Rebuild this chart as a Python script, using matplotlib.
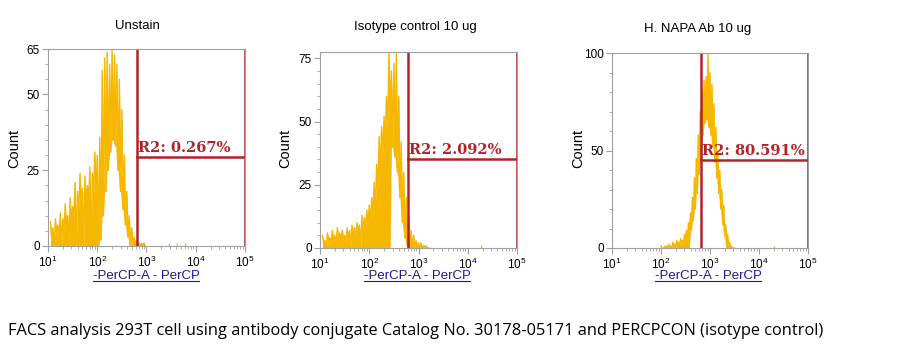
import numpy as np
import matplotlib
matplotlib.use("Agg")
import matplotlib.pyplot as plt
from matplotlib.ticker import FixedLocator, LogLocator, NullFormatter, MultipleLocator

plt.rcParams["font.family"] = ["Liberation Sans", "DejaVu Sans"]
plt.rcParams["mathtext.fontset"] = "custom"
plt.rcParams["mathtext.rm"] = "Liberation Sans"

# ---- data (log10 channel, counts) ----
titles = ["Unstain", "Isotype control 10 ug", "H. NAPA Ab 10 ug"]
gate_labels = ["R2: 0.267%", "R2: 2.092%", "R2: 80.591%"]

# panel 1: unstained
unstain_start, unstain_step = 1.05, 0.05
unstain_hi = [8, 6, 9, 7, 11, 9, 14, 10, 16, 13, 21, 18, 24, 19, 23, 20, 26, 24, 31, 30,
              36, 58, 62, 64, 60, 65, 63, 60, 55, 45, 30, 18, 10, 6, 3, 2, 1, 1, 1]
unstain_lo = [2, 0, 4, 3, 0, 5, 6, 0, 8, 9, 0, 12, 13, 0, 14, 15, 0, 17, 18, 0,
              2, 10, 18, 25, 31, 35, 33, 25, 18, 12, 7, 3, 0, 0, 0, 0, 0, 0, 0]
unstain_hollow = (2.05, 2.65)
unstain_events_x = [3.45, 3.62, 3.78]
unstain_events_y = [1, 1, 1]

# panel 2: isotype control
iso_start, iso_step = 1.05, 0.05
iso_hi = [5, 3, 6, 4, 7, 5, 8, 6, 7, 5, 8, 7, 9, 8, 10, 9, 13, 12, 15, 17,
          20, 26, 33, 44, 48, 52, 60, 77, 70, 73, 77, 60, 42, 30, 20, 12, 7, 5, 3, 2,
          2, 1, 1, 0]
iso_lo = [2, 0, 3, 2, 3, 0, 4, 3, 4, 2, 4, 0, 5, 5, 6, 0, 7, 8, 9, 10,
          12, 16, 22, 30, 36, 42, 48, 55, 40, 36, 30, 20, 10, 4, 1, 1, 0, 0, 0, 0,
          0, 0, 0, 0]
iso_hollow = (2.45, 2.75)
iso_events_x = [4.27]
iso_events_y = [1]

# panel 3: H. NAPA Ab
napa_start, napa_step = 2.00, 0.04
napa_hi = [1, 0, 1, 1, 2, 1, 3, 2, 4, 3, 5, 4, 7, 9, 13, 18, 26, 36, 46, 58,
           70, 80, 86, 88, 100, 90, 84, 74, 62, 50, 40, 30, 22, 12, 7, 3, 1, 0]
napa_lo = [0, 0, 0, 0, 0, 0, 1, 0, 1, 1, 2, 2, 3, 4, 6, 9, 14, 20, 28, 38,
           48, 58, 64, 66, 62, 58, 52, 44, 36, 28, 20, 12, 6, 3, 1, 0, 0, 0]
napa_hollow = (2.6, 3.3)
napa_events_x = [4.3]
napa_events_y = [1]

gate_pos = [10 ** 2.81, 10 ** 2.79, 10 ** 2.82]
gate_level = [29.4, 35.2, 45.0]
y_max = [65, 77.5, 100]
y_major = [[0, 25, 50, 65], [0, 25, 50, 75], [0, 50, 100]]
y_minor = [5, 5, 10]

caption = ("FACS analysis 293T cell using antibody conjugate Catalog No. 30178-05171 "
           "and PERCPCON (isotype control)")

series = [
    (unstain_start, unstain_step, unstain_hi, unstain_lo, unstain_hollow,
     unstain_events_x, unstain_events_y),
    (iso_start, iso_step, iso_hi, iso_lo, iso_hollow, iso_events_x, iso_events_y),
    (napa_start, napa_step, napa_hi, napa_lo, napa_hollow, napa_events_x, napa_events_y),
]

W, H = 898, 356
fig = plt.figure(figsize=(W / 100, H / 100), dpi=100)

# axes boxes in pixels: left, top, right, bottom
boxes = [(48, 49, 245, 246), (320, 52, 517, 248), (612, 53, 808, 248)]
title_xy = [(137, 26), (415, 27), (698, 29)]
ylabel_x = [14, 285, 578]
xlabel_x = [146, 417, 708]

hist_color = "#F5B700"
gate_color = "#B22228"
axis_grey = "#A0A0A0"

for i, (l, t, r, b) in enumerate(boxes):
    ax = fig.add_axes([l / W, 1 - b / H, (r - l) / W, (b - t) / H])
    start, step, hi, lo, hollow, ex, ey = series[i]
    n = len(hi)
    centers = start + step * np.arange(n)
    # zig-zag between peak and trough of each channel pair
    zx = np.empty(2 * n)
    zy = np.empty(2 * n)
    zx[0::2] = centers
    zx[1::2] = centers + step / 2
    zy[0::2] = hi
    zy[1::2] = lo
    inside = (zx >= hollow[0] - 1e-9) & (zx <= hollow[1] + 1e-9)
    floor = np.where(inside, np.repeat(lo, 2), 0)
    ax.fill_between(10 ** zx, floor, zy, color=hist_color, lw=0)
    ax.plot(10 ** zx, zy, color=hist_color, lw=1.0)
    ax.vlines(10 ** np.array(ex), 0, ey, color=hist_color, lw=1)

    ax.set_xscale("log")
    ax.set_xlim(10, 1e5)
    ax.set_ylim(0, y_max[i])

    # gate
    g = gate_pos[i]
    ax.axvline(g, color=gate_color, lw=1.8)
    ax.axvline(1e5, color=gate_color, lw=1.8)
    ax.plot([g, 1e5], [gate_level[i], gate_level[i]], color=gate_color, lw=1.8)
    ax.text(g * 1.03, gate_level[i] + y_max[i] * 0.01, gate_labels[i],
            color=gate_color, fontsize=10.5, family="DejaVu Serif",
            weight="bold", ha="left", va="bottom")

    for s in ax.spines.values():
        s.set_color(axis_grey)
        s.set_linewidth(0.8)

    ax.xaxis.set_major_locator(FixedLocator([1e1, 1e2, 1e3, 1e4, 1e5]))
    ax.set_xticklabels([r"$10^{1}$", r"$10^{2}$", r"$10^{3}$", r"$10^{4}$", r"$10^{5}$"])
    ax.xaxis.set_minor_locator(LogLocator(base=10, subs=np.arange(2, 10)))
    ax.xaxis.set_minor_formatter(NullFormatter())
    ax.yaxis.set_major_locator(FixedLocator(y_major[i]))
    ax.yaxis.set_minor_locator(MultipleLocator(y_minor[i]))
    ax.tick_params(which="major", length=4, width=0.8, color=axis_grey,
                   labelsize=8.5, pad=2)
    ax.tick_params(which="minor", length=2, width=0.6, color=axis_grey)

    fig.text(title_xy[i][0] / W, 1 - title_xy[i][1] / H, titles[i],
             ha="center", va="center", fontsize=9.5)
    fig.text(ylabel_x[i] / W, 1 - 148 / H, "Count", rotation=90,
             ha="center", va="center", fontsize=10.5)
    xl = fig.text(xlabel_x[i] / W, 1 - 276 / H, "-PerCP-A - PerCP",
                  ha="center", va="center", fontsize=9.5, color="#1C1C8E")

    # underline the axis label
    fig.canvas.draw()
    bb = xl.get_window_extent()
    fig.add_artist(plt.Line2D([bb.x0 / W, bb.x1 / W],
                              [(bb.y0 + 1) / H, (bb.y0 + 1) / H],
                              color="#1C1C8E", lw=0.8))

fig.text(8 / W, 1 - 331 / H, caption, ha="left", va="center",
         fontsize=11.8, family="Open Sans")

fig.savefig("out.png", dpi=100)
